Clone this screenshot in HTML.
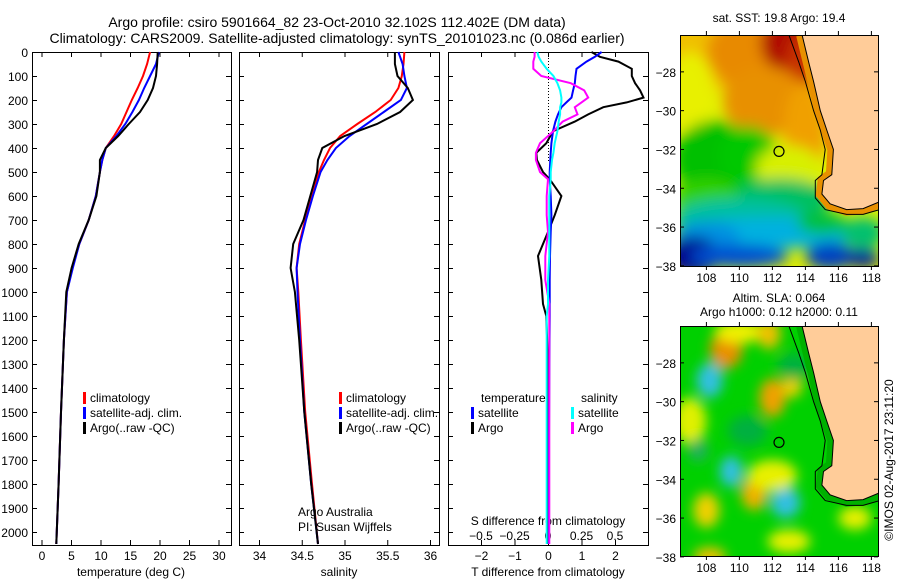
<!DOCTYPE html>
<html><head><meta charset="utf-8">
<style>
html,body{margin:0;padding:0;background:#fff;}
svg{display:block;font-family:"Liberation Sans",sans-serif;}
</style></head>
<body>
<svg id="chart" width="900" height="580" viewBox="0 0 900 580">
<defs>
<filter id="blur1" x="-20%" y="-20%" width="140%" height="140%"><feGaussianBlur stdDeviation="7"/></filter>
<filter id="blur2" x="-20%" y="-20%" width="140%" height="140%"><feGaussianBlur stdDeviation="6"/></filter>
<clipPath id="clipMap1"><rect x="680" y="35" width="198" height="231"/></clipPath>
<clipPath id="clipMap2"><rect x="680" y="326" width="198" height="230"/></clipPath>
</defs>
<g id="root"></g>
</svg>
<script>
// ---- profile data ----
const depthT = [0,50,100,150,200,250,300,350,400,450,500,600,700,800,900,1000,1200,1500,1800,2050];
const tempClim = [18.4,17.9,17.2,16.3,15.3,14.4,13.5,12.3,10.9,10.3,9.9,9.2,8.0,6.4,5.2,4.3,3.8,3.3,2.9,2.5];
const tempSat  = [19.9,19.4,18.4,17.4,16.5,15.4,14.2,12.7,10.9,10.3,9.9,9.2,8.0,6.4,5.3,4.3,3.8,3.3,2.9,2.5];
const tempArgo = [19.7,19.6,19.4,18.9,18.0,16.7,14.8,13.0,10.9,9.9,9.9,9.3,8.0,6.3,5.1,4.2,3.8,3.3,2.9,2.5];
const salClim = [35.70,35.69,35.67,35.63,35.54,35.36,35.15,34.95,34.83,34.76,34.70,34.62,34.54,34.47,34.44,34.46,34.49,34.54,34.62,34.69];
const salSat  = [35.63,35.68,35.70,35.73,35.66,35.46,35.26,35.06,34.90,34.80,34.72,34.63,34.55,34.48,34.44,34.45,34.48,34.53,34.61,34.69];
const salArgo = [35.59,35.59,35.62,35.74,35.80,35.65,35.38,35.00,34.74,34.69,34.68,34.60,34.52,34.40,34.37,34.42,34.47,34.53,34.61,34.69];
const depthD = [0,20,40,70,100,130,160,190,210,230,260,290,330,380,420,450,500,530,600,680,750,850,950,1050,1100,1300,1600,2050];
const tDiffSat  = [1.6,1.4,1.15,0.85,0.82,0.8,0.75,0.7,0.55,0.4,0.3,0.22,0.15,0.1,0.08,0.07,0.05,0.05,0.08,0.1,0.08,0.06,0.05,0.05,0.05,0.04,0.03,0.03];
const tDiffArgo = [1.3,1.55,2.1,2.5,2.5,2.6,2.75,2.85,2.35,1.65,1.2,0.8,0.15,-0.05,-0.35,-0.33,-0.15,0.05,0.4,0.2,0.0,-0.3,-0.2,-0.15,-0.05,0.0,0.0,0.0];
const sDiffSat  = [-0.08,-0.07,-0.05,-0.01,0.04,0.07,0.09,0.1,0.1,0.09,0.09,0.08,0.07,0.05,0.04,0.03,0.02,0.02,0.01,0.01,0.01,0.01,0.0,0.0,-0.01,-0.01,-0.01,-0.01];
const sDiffArgo = [-0.1,-0.1,-0.11,-0.11,-0.05,0.17,0.27,0.3,0.25,0.2,0.22,0.11,0.04,-0.06,-0.09,-0.09,-0.06,0.0,-0.01,-0.01,0.0,-0.02,-0.02,0.01,0.01,0.01,0.01,0.01];
const depthTicks = [0,100,200,300,400,500,600,700,800,900,1000,1100,1200,1300,1400,1500,1600,1700,1800,1900,2000];
const tempTicks = [0,5,10,15,20,25,30];
const salTicks = [34,34.5,35,35.5,36];
const tDiffTicks = [-2,-1,0,1,2];
const sDiffTicks = [-0.5,-0.25,0,0.25,0.5];
const latTicks = [-28,-30,-32,-34,-36,-38];
const lonTicks = [108,110,112,114,116,118];

const NS="http://www.w3.org/2000/svg";
const root=document.getElementById('root');
function el(tag,attrs,parent){const e=document.createElementNS(NS,tag);for(const k in attrs)e.setAttribute(k,attrs[k]);(parent||root).appendChild(e);return e;}
function txt(x,y,s,anchor,size,parent){const t=el('text',{x:x,y:y,'font-size':size||12,'text-anchor':anchor||'start',fill:'#000'},parent);t.textContent=s;return t;}

const PT=52, PB=545;
function yD(d){return PT+d*0.24;}
const xTemp=v=>41.5+v*5.9;
const xSal=v=>259+(v-34)*85.5;
const xTd=v=>548+v*33.5;
const xSd=v=>548+v*134;

let t1=txt(337,27,'Argo profile: csiro 5901664_82 23-Oct-2010 32.102S 112.402E (DM data)','middle',14);


let t2=txt(337,43,'Climatology: CARS2009. Satellite-adjusted climatology: synTS_20101023.nc (0.086d earlier)','middle',14);



function panel(x0,x1,name){
  const g=el('g',{});
  
  
  el('rect',{x:x0+0.5,y:PT+0.5,width:x1-x0,height:PB-PT,fill:'none',stroke:'#000','stroke-width':1},g);
  depthTicks.forEach(d=>{const y=yD(d)+0.5;
    el('line',{x1:x0,y1:y,x2:x0+5,y2:y,stroke:'#000'},g);
    el('line',{x1:x1-5,y1:y,x2:x1,y2:y,stroke:'#000'},g);});
  return g;
}
function line(xs,ds,fx,color,g,name,w){
  const p=el('polyline',{points:xs.map((v,i)=>fx(v).toFixed(1)+','+yD(ds[i]).toFixed(1)).join(' '),fill:'none',stroke:color,'stroke-width':w||2},g);
  
  
}
function xticks(g,ticks,fx,x0,x1,lblY){
  ticks.forEach(v=>{const x=fx(v)+0.5;
    el('line',{x1:x,y1:PB,x2:x,y2:PB-5,stroke:'#000'},g);
    el('line',{x1:x,y1:PT,x2:x,y2:PT+5,stroke:'#000'},g);
    if(lblY) txt(x,lblY,String(v).replace('-','−'),'middle',12,g);});
}
function legend(g,x,y,items){
  items.forEach((it,i)=>{const yy=y+i*15;
    const m=el('rect',{x:x,y:yy-10,width:3,height:12,fill:it[1]},g);
    
    
    txt(x+7,yy,it[0],'start',12,g);});
}

const g1=panel(32,231,'temperature-panel');
depthTicks.forEach(d=>{txt(28,yD(d)+5,String(d),'end',12,g1);});
xticks(g1,tempTicks,xTemp,32,231,560);
txt(131,576,'temperature (deg C)','middle',12,g1);
line(tempClim,depthT,xTemp,'#ff0000',g1,'temp-climatology-line');
line(tempSat,depthT,xTemp,'#0000ff',g1,'temp-satellite-line');
line(tempArgo,depthT,xTemp,'#000000',g1,'temp-argo-line');
legend(g1,83,402,[['climatology','#ff0000'],['satellite-adj. clim.','#0000ff'],['Argo(..raw -QC)','#000000']]);

const g2=panel(239,439,'salinity-panel');
xticks(g2,salTicks,xSal,239,439,560);
txt(339,576,'salinity','middle',12,g2);
line(salClim,depthT,xSal,'#ff0000',g2,'sal-climatology-line');
line(salSat,depthT,xSal,'#0000ff',g2,'sal-satellite-line');
line(salArgo,depthT,xSal,'#000000',g2,'sal-argo-line');
legend(g2,339,402,[['climatology','#ff0000'],['satellite-adj. clim.','#0000ff'],['Argo(..raw -QC)','#000000']]);
txt(298,516,'Argo Australia','start',12,g2);
txt(298,531,'PI: Susan Wijffels','start',12,g2);

const g3=panel(448,648,'difference-panel');
xticks(g3,tDiffTicks,xTd,448,648,560);
txt(548,576,'T difference from climatology','middle',12,g3);
txt(548,525,'S difference from climatology','middle',12,g3);
sDiffTicks.forEach(v=>txt(xSd(v),540,String(v).replace('-','−'),'middle',12,g3));
for(let y=PT;y<PT+110;y+=3) el('rect',{x:548,y:y,width:1,height:1,fill:'#000'},g3);
line(tDiffArgo,depthD,xTd,'#000000',g3,'tdiff-argo-line');
line(tDiffSat,depthD,xTd,'#0000ff',g3,'tdiff-satellite-line');
line(sDiffArgo,depthD,xSd,'#ff00ff',g3,'sdiff-argo-line');
line(sDiffSat,depthD,xSd,'#00ffff',g3,'sdiff-satellite-line');
txt(481,402,'temperature','start',12,g3);
legend(g3,471,417,[['satellite','#0000ff'],['Argo','#000000']]);
txt(581,402,'salinity','start',12,g3);
legend(g3,571,417,[['satellite','#00ffff'],['Argo','#ff00ff']]);

// ---- maps ----
const lonX=lon=>680+(lon-106.4)*16.5;
const coastPts=[[113.8,-26.1],[114.2,-27.5],[114.5,-28.5],[114.9,-30],[115.3,-31],[115.7,-32],[115.6,-33.3],[115.1,-33.6],[115.0,-34.3],[115.5,-34.8],[116.5,-35.1],[117.5,-35.05],[118.5,-34.7],[118.5,-26.1]];
const isoPts=[[113.0,-26.1],[113.6,-27.5],[114.0,-28.5],[114.5,-30],[114.9,-31],[115.2,-32],[115.0,-33.3],[114.6,-33.6],[114.6,-34.5],[115.2,-35.1],[116.5,-35.35],[117.5,-35.35],[118.5,-35.1]];
function toPix(pts,y0){return pts.map(p=>lonX(p[0]).toFixed(1)+','+(y0+(-p[1]-26.1)*19.4).toFixed(1)).join(' ');}
function mapFrame(y0,h,name,blobs,bg,clip,filt,bandColor){
  const g=el('g',{});
  
  
  const cg=el('g',{'clip-path':'url(#'+clip+')'},g);
  el('rect',{x:680,y:y0,width:198,height:h,fill:bg},cg);
  const bg2=el('g',{filter:'url(#'+filt+')'},cg);
  blobs.forEach(b=>el('ellipse',{cx:lonX(b[0]),cy:y0+(-b[1]-26.1)*19.4,rx:b[2]*16.5,ry:b[3]*19.4,fill:b[4]},bg2));
  if(bandColor) el('polyline',{points:toPix(coastPts.slice(0,-1),y0),fill:'none',stroke:bandColor,'stroke-width':12},cg);
  el('polygon',{points:toPix(coastPts,y0),fill:'#ffcc99',stroke:'#000','stroke-width':1},cg);
  el('polyline',{points:toPix(isoPts,y0),fill:'none',stroke:'#000','stroke-width':1},cg);
  el('rect',{x:680.5,y:y0+0.5,width:198,height:h,fill:'none',stroke:'#000'},g);
  latTicks.forEach(la=>{const y=y0+(-la-26.1)*19.4;
    el('line',{x1:680,y1:y,x2:684,y2:y,stroke:'#000'},g);
    el('line',{x1:874,y1:y,x2:878,y2:y,stroke:'#000'},g);
    txt(676,y+5,String(la).replace('-','−'),'end',12,g);});
  lonTicks.forEach(lo=>{const x=lonX(lo);
    el('line',{x1:x,y1:y0,x2:x,y2:y0-4,stroke:'#000'},g);
    el('line',{x1:x,y1:y0+h,x2:x,y2:y0+h+4,stroke:'#000'},g);
    txt(x,y0+h+16,String(lo),'middle',12,g);});
  const c=el('circle',{cx:lonX(112.4),cy:y0+(32.1-26.1)*19.4,r:5,fill:'none',stroke:'#000','stroke-width':1.2},g);
  
  
  return g;
}
const sstBlobs=[
 [108,-26.5,4,2.5,'#f0c000'],[111,-27,3,2,'#e88a00'],[112.8,-26.5,1.5,1.5,'#b01000'],[113.8,-28,1,2,'#c83000'],
 [107,-29,1.5,2,'#e8f000'],[111.5,-29.5,2.5,1.8,'#e89000'],[114,-31,1.3,2.5,'#f0a000'],
 [108.5,-32.5,2.5,2,'#00c000'],[110.5,-32.3,1.8,1.5,'#00c800'],[113,-33,2,1.2,'#d8f000'],
 [112.5,-34.6,3,1.1,'#00c060'],[108,-34.5,2,1,'#30d000'],[110,-35.5,4,1,'#00c0a0'],
 [112,-36.3,6,0.8,'#00b0e0'],[108,-36.5,2,0.8,'#0090e0'],[107.2,-37.5,1.6,1,'#000090'],
 [110,-37.5,3,0.6,'#0050d0'],[115.5,-37.5,1.5,0.7,'#0040c0'],[117.5,-36.3,1.3,0.8,'#00c070'],[115,-35.8,1.5,0.6,'#00c040'],[117.5,-37.6,1,0.5,'#0020a0']];
const gm1=mapFrame(35,231,'sst-map',sstBlobs,'#e0f000','clipMap1','blur1','#e89000');
txt(779,22,'sat. SST: 19.8 Argo: 19.4','middle',12,gm1);

const slaBlobs=[
 [108.2,-28.9,0.8,0.9,'#30c0e0'],[109.2,-27.3,1,1,'#e89000'],[110,-26.4,1.5,0.6,'#f0f000'],[111.8,-26.5,0.7,0.8,'#f0c000'],
 [112,-29.8,0.8,1,'#f0a000'],[113.2,-29.2,0.6,0.6,'#f0d000'],[107,-31,1,1.2,'#e0f000'],
 [109.5,-33.6,0.7,0.8,'#30c0e0'],[110.9,-34.7,0.8,0.9,'#f0b000'],[112.8,-35.2,0.9,0.8,'#30c0e0'],
 [108,-35.6,0.8,0.9,'#f0d000'],[112,-33.8,1.5,0.8,'#e8f000'],[117,-36,1,0.6,'#e8f000'],[108.2,-38,1,0.5,'#f0c000'],
 [113,-37.2,1.3,0.6,'#e8f000'],[110.5,-31.5,1.2,0.8,'#00b040'],[113.3,-28.2,1,0.7,'#00b040'],[107.5,-32.5,0.6,0.6,'#20b060']];
const gm2=mapFrame(326,230,'sla-map',slaBlobs,'#00d000','clipMap2','blur2','#00b000');
txt(779,302,'Altim. SLA: 0.064','middle',12,gm2);
txt(779,316,'Argo h1000: 0.12 h2000: 0.11','middle',12,gm2);

const ts=txt(0,0,'©IMOS 02-Aug-2017 23:11:20','middle',12);
ts.setAttribute('transform','translate(893,460) rotate(-90)');


</script>
</body></html>
